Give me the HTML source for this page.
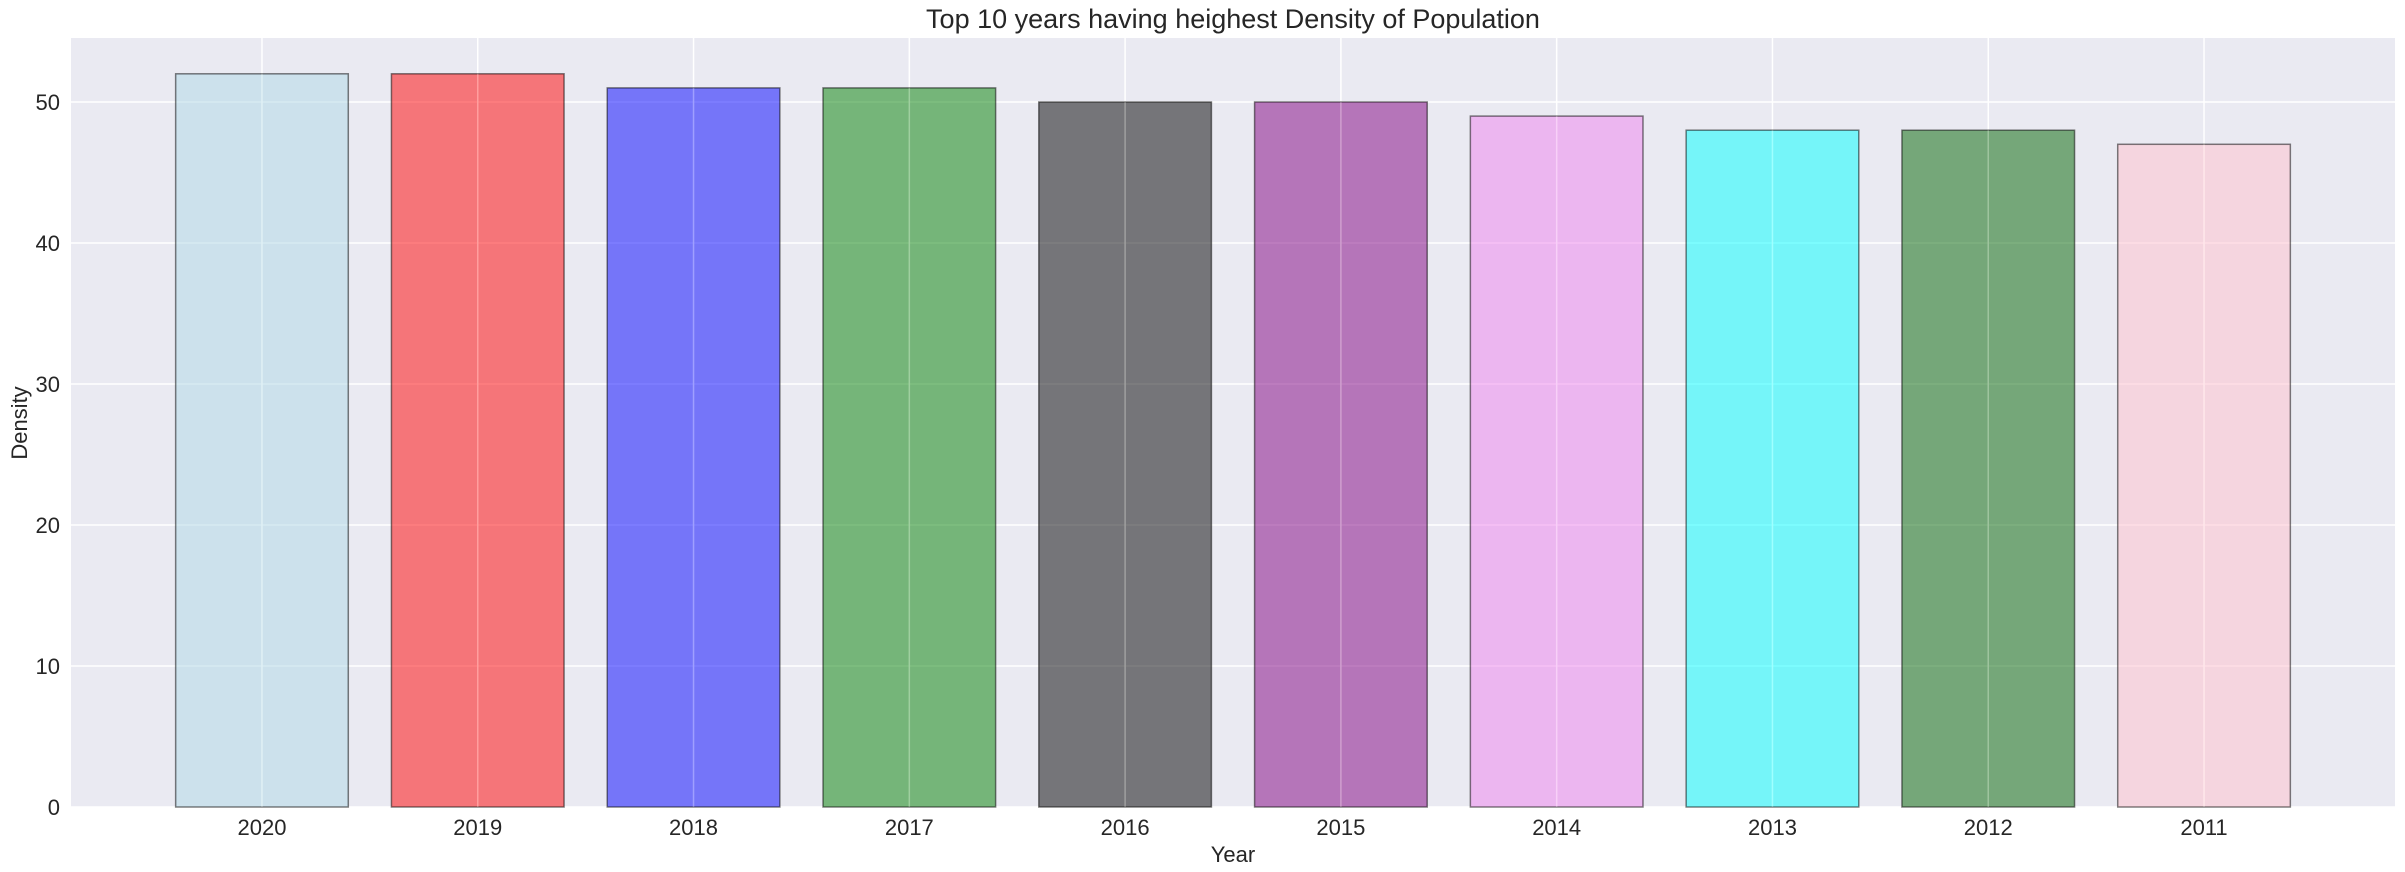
<!DOCTYPE html>
<html><head><meta charset="utf-8"><style>
body{margin:0;background:#fff;}
svg{display:block;font-family:"Liberation Sans",sans-serif;}
</style></head><body>
<svg id="chart" width="2405" height="872">
<rect x="71" y="38" width="2324" height="769" fill="#eaeaf2"/>
<g id="grid"></g><g id="bars"></g><g id="ticks"></g>
<text x="1233" y="28" text-anchor="middle" font-size="27" fill="#262626">Top 10 years having heighest Density of Population</text>
<text x="1233" y="862" text-anchor="middle" font-size="22" fill="#262626">Year</text>
<text transform="translate(27,423) rotate(-90)" text-anchor="middle" font-size="22" fill="#262626">Density</text>
</svg>
<script>
const categories=["2020","2019","2018","2017","2016","2015","2014","2013","2012","2011"];
const values=[52,52,51,51,50,50,49,48,48,47];
const colors=["lightblue","red","blue","green","black","purple","violet","cyan","darkgreen","pink"];
const yTicks=[0,10,20,30,40,50];
const NS="http://www.w3.org/2000/svg";
const L=71,R=2395,T=38,B=807;
const xMin=-0.885,xMax=categories.length-1+0.885;
const x=i=>L+(i-xMin)/(xMax-xMin)*(R-L);
const y=v=>B-v*(B-102)/50;
const bw=0.8*(R-L)/(xMax-xMin);
function mk(tag,attrs,parent){const e=document.createElementNS(NS,tag);for(const k in attrs)e.setAttribute(k,attrs[k]);document.getElementById(parent).appendChild(e);return e;}
yTicks.forEach(t=>{
 const l=mk('line',{x1:L,x2:R,y1:y(t),y2:y(t),stroke:'#fff','stroke-width':1.5},'grid');
 
 
 const tx=mk('text',{x:60,y:y(t)+8,'text-anchor':'end','font-size':22,fill:'#262626'},'ticks');
 tx.textContent=t;
 
 
});
categories.forEach((c,i)=>{
 const g=mk('line',{x1:x(i),x2:x(i),y1:T,y2:B,stroke:'#fff','stroke-width':1.5},'grid');
 
 
 const r=mk('rect',{x:x(i)-bw/2,y:y(values[i]),width:bw,height:y(0)-y(values[i]),fill:colors[i],'fill-opacity':0.5,stroke:'rgba(0,0,0,0.5)','stroke-width':1.5},'bars');
 
 
 const gl=mk('line',{x1:x(i),x2:x(i),y1:y(values[i]),y2:B,stroke:'rgba(255,255,255,0.25)','stroke-width':1.5},'bars');
 
 
 const tx=mk('text',{x:x(i),y:835,'text-anchor':'middle','font-size':22,fill:'#262626'},'ticks');
 tx.textContent=c;
 
 
});
</script>
</body></html>
